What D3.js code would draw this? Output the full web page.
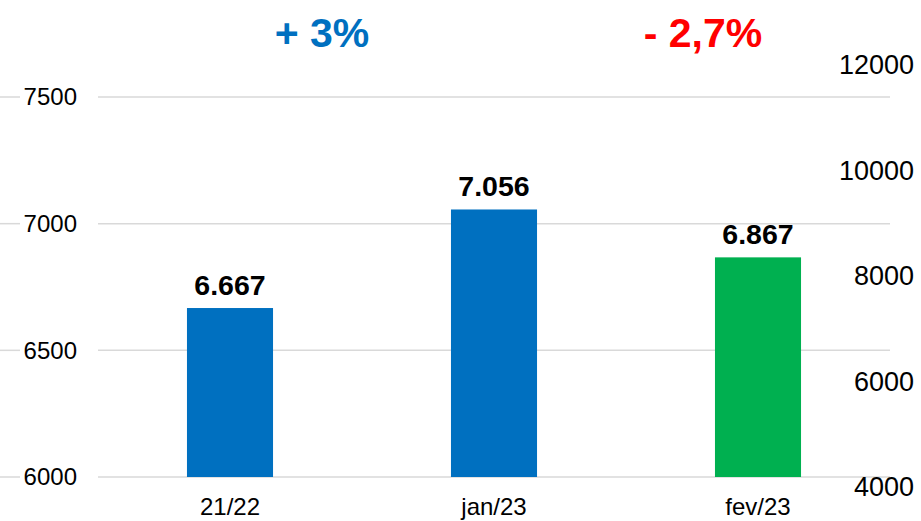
<!DOCTYPE html>
<html>
  <head>
    <meta charset="utf-8">
    <title>Bar Chart</title>
    <script type="text/javascript" src="https://d3js.org/d3.v7.min.js"></script>
    <style>
      html, body { margin: 0; background: #fff; }
      text { font-family: "Liberation Sans", Arial, sans-serif; }
    </style>
  </head>
  <body>
    <script>
    var categories = ["21/22", "jan/23", "fev/23"];
    var values = [6667, 7056, 6867];
    var valueLabels = ["6.667", "7.056", "6.867"];
    var barColors = ["#0070C0", "#0070C0", "#00B050"];
    var leftTicks = [6000, 6500, 7000, 7500];
    var rightTicks = [4000, 6000, 8000, 10000, 12000];
    var changes = ["+ 3%", "- 2,7%"];
    var changeColors = ["#0070C0", "#FF0000"];

    var W = 921, H = 521;
    var svg = d3.select("body").append("svg")
                .attr("width", W).attr("height", H);

    var x = d3.scaleBand().domain(categories).range([98, 890]).paddingInner(0.674).paddingOuter(0.337);
    var y = d3.scaleLinear().domain([6000, 7500]).range([477, 97]);
    var y2 = d3.scaleLinear().domain([4000, 12000]).range([487, 65]);

    // gridlines (short stub on the far left, then the plot area)
    var segs = [];
    leftTicks.forEach(function(t) {
      segs.push({t: t, x1: 0, x2: 20});
      segs.push({t: t, x1: 98, x2: 890});
    });
    svg.selectAll("line.grid").data(segs).enter().append("line")
       .attr("class", "grid")
       .attr("x1", function(d) { return d.x1; })
       .attr("x2", function(d) { return d.x2; })
       .attr("y1", function(d) { return y(d.t); })
       .attr("y2", function(d) { return y(d.t); })
       .attr("stroke", "#d9d9d9").attr("stroke-width", 1.5);

    // bars
    svg.selectAll("rect.bar").data(values).enter().append("rect")
       .attr("class", "bar")
       .attr("x", function(d, i) { return x(categories[i]); })
       .attr("width", x.bandwidth())
       .attr("y", function(d) { return y(d); })
       .attr("height", function(d) { return y(6000) - y(d); })
       .attr("fill", function(d, i) { return barColors[i]; });

    // value labels
    svg.selectAll("text.val").data(values).enter().append("text")
       .attr("class", "val")
       .attr("x", function(d, i) { return x(categories[i]) + x.bandwidth() / 2; })
       .attr("y", function(d) { return y(d) - 13; })
       .attr("text-anchor", "middle")
       .attr("font-size", 28.5).attr("font-weight", "bold")
       .text(function(d, i) { return valueLabels[i]; });

    // left axis labels
    svg.selectAll("text.yl").data(leftTicks).enter().append("text")
       .attr("class", "yl")
       .attr("x", 77).attr("y", function(d) { return y(d); })
       .attr("dy", "0.35em").attr("text-anchor", "end")
       .attr("font-size", 24).text(function(d) { return d; });

    // right axis labels
    svg.selectAll("text.yr").data(rightTicks).enter().append("text")
       .attr("class", "yr")
       .attr("x", 914).attr("y", function(d) { return y2(d); })
       .attr("dy", "0.35em").attr("text-anchor", "end")
       .attr("font-size", 27).text(function(d) { return d; });

    // category labels
    svg.selectAll("text.cat").data(categories).enter().append("text")
       .attr("class", "cat")
       .attr("x", function(d) { return x(d) + x.bandwidth() / 2; })
       .attr("y", 515).attr("text-anchor", "middle")
       .attr("font-size", 24).text(function(d) { return d; });

    // change labels between bars
    var changeX = [322, 703];
    svg.selectAll("text.chg").data(changes).enter().append("text")
       .attr("class", "chg")
       .attr("x", function(d, i) { return changeX[i]; })
       .attr("y", 47).attr("text-anchor", "middle")
       .attr("font-size", 41).attr("font-weight", "bold")
       .attr("fill", function(d, i) { return changeColors[i]; })
       .text(function(d) { return d; });
    </script>
  </body>
</html>
